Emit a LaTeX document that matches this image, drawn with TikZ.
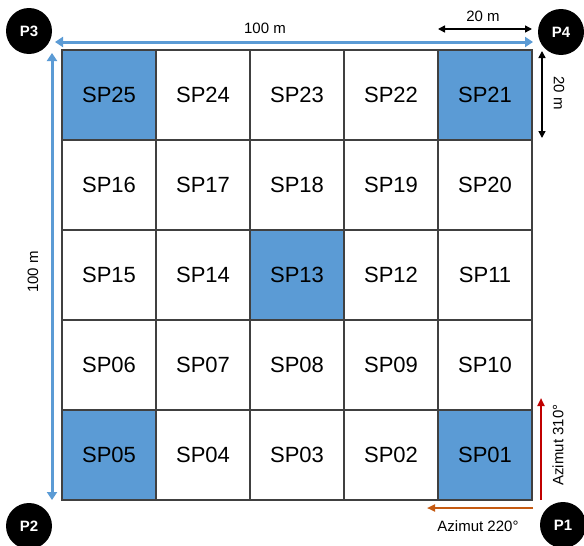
\documentclass[tikz,border=0pt]{standalone}
\usepackage{fontspec}
\setmainfont{Liberation Sans}
\usetikzlibrary{arrows.meta}
\definecolor{cellblue}{HTML}{5B9BD5}
\definecolor{gridgray}{HTML}{404040}
\definecolor{azred}{HTML}{C00000}
\definecolor{azorange}{HTML}{C55A11}
\begin{document}
\begin{tikzpicture}[x=1pt,y=-1pt,
  cell/.style={draw=gridgray,line width=1.3pt,minimum width=94pt,minimum height=90pt,inner sep=0pt,font=\fontsize{22}{24}\selectfont},
  hl/.style={fill=cellblue},
  corner/.style={circle,fill=black,minimum size=46pt,inner sep=0pt,text=white,font=\fontsize{15}{17}\selectfont\bfseries},
  lbl/.style={font=\fontsize{15}{17}\selectfont,inner sep=0pt},
  bluearr/.style={draw=cellblue,line width=3pt,{Triangle[width=10pt,length=8pt]}-{Triangle[width=10pt,length=8pt]}},
  blkarr/.style={draw=black,line width=1.5pt,{Triangle[width=7pt,length=7pt]}-{Triangle[width=7pt,length=7pt]}},
  colarr/.style={line width=2.2pt,-{Triangle[width=7pt,length=8pt]}}]
\useasboundingbox (0,0) rectangle (584,546);
% grid
\foreach \r/\lst in {0/{25,24,23,22,21},1/{16,17,18,19,20},2/{15,14,13,12,11},3/{06,07,08,09,10},4/{05,04,03,02,01}}{
  \foreach \n [count=\c from 0] in \lst {
    \node[cell] (sp\n) at (62+47+94*\c, 50+45+90*\r) {\raisebox{-2pt}{SP\n}};
  }
}
\foreach \n in {25,21,13,05,01}{
  \node[cell,hl] at (sp\n) {\raisebox{-2pt}{SP\n}};
}
% corners
\node[corner] (P3) at (29,31) {P3};
\node[corner] (P4) at (561,32) {P4};
\node[corner] (P2) at (29,526) {P2};
\node[corner] (P1) at (563,525) {P1};
% coordinates
\coordinate (tl) at (55,42);
\coordinate (tr) at (533,42);
\coordinate (lt) at (52,53);
\coordinate (lb) at (52,500);
% blue arrows
\draw[bluearr] (tl) -- (tr);
\draw[bluearr] (lt) -- (lb);
\node[lbl] (t100) at (265,28) {100 m};
\node[lbl,rotate=90] (l100) at (33,272) {100 m};
% 20 m arrows
\coordinate (h1) at (438,29);
\coordinate (h2) at (532,29);
\draw[blkarr] (h1) -- (h2);
\node[lbl] (t20) at (483,16) {20 m};
\coordinate (v1) at (542,51);
\coordinate (v2) at (542,138);
\draw[blkarr] (v1) -- (v2);
\node[lbl,rotate=-90] (r20) at (559,93) {20 m};
% azimuth arrows
\coordinate (a1) at (541,500);
\coordinate (a2) at (541,398);
\draw[colarr,draw=azred,azred] (a1) -- (a2);
\node[lbl,rotate=90] (az310) at (558,445) {Azimut 310°};
\coordinate (o1) at (533,508);
\coordinate (o2) at (427,508);
\draw[colarr,draw=azorange,azorange] (o1) -- (o2);
\node[lbl] (az220) at (478,526) {Azimut 220°};
\end{tikzpicture}
\end{document}
